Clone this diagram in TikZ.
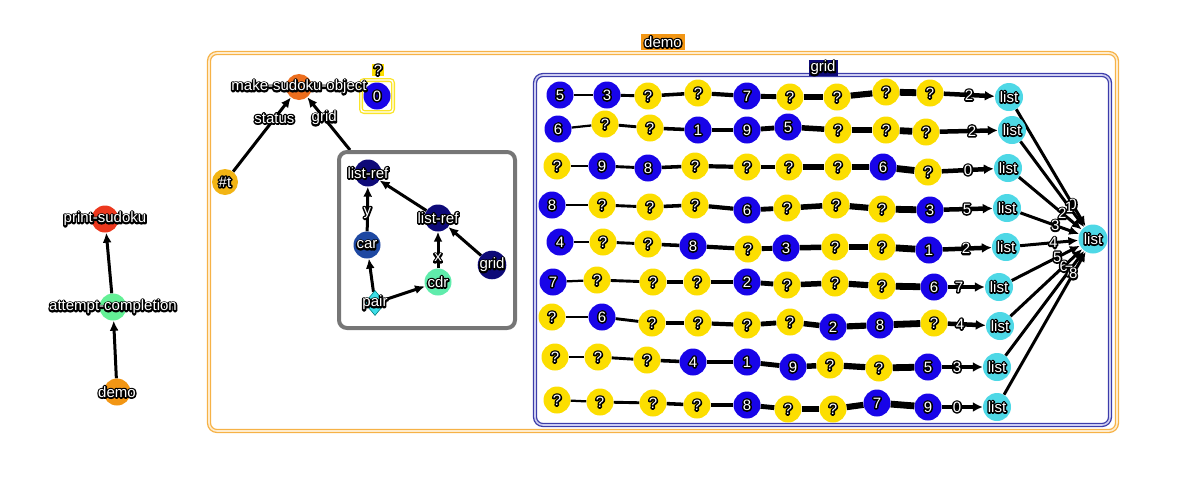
\documentclass[tikz,border=0pt]{standalone}
\usepackage{fontspec}
\setmainfont{Liberation Sans}
\usetikzlibrary{arrows.meta,shapes.geometric,calc}
\pgfdeclarelayer{bg}
\pgfsetlayers{bg,main}
\definecolor{cyel}{RGB}{252,222,0}
\definecolor{cblue}{RGB}{24,4,232}
\definecolor{cnavy}{RGB}{14,10,120}
\definecolor{ccar}{RGB}{30,72,162}
\definecolor{ccdr}{RGB}{96,236,172}
\definecolor{cpair}{RGB}{60,222,232}
\definecolor{clist}{RGB}{78,216,230}
\definecolor{cred}{RGB}{236,56,30}
\definecolor{cgreen}{RGB}{100,240,150}
\definecolor{corange}{RGB}{242,150,20}
\definecolor{cmso}{RGB}{236,110,30}
\definecolor{cgold}{RGB}{242,180,20}
\definecolor{cobox}{RGB}{246,178,70}
\definecolor{cobin}{RGB}{255,236,205}
\definecolor{cgbox}{RGB}{60,60,170}
\definecolor{cgbin}{RGB}{205,205,240}
\definecolor{cgray}{RGB}{118,118,118}
\definecolor{cyb}{RGB}{250,228,40}
% white text with a black outline: a stroked black copy under the white text
\newcommand\olt[1]{\leavevmode\rlap{\special{pdf:bcontent}\special{pdf:literal direct 1 Tr 3.1 w 1 j 0 G}#1\special{pdf:econtent}}#1}
\def\qmark{?}
\tikzset{
  txt/.style={font=\fontsize{15}{17}\selectfont, text=white, inner sep=0pt},
  vtx/.style={txt, circle, minimum size=27pt},
  cy/.style={vtx, fill=cyel},
  cb/.style={vtx, fill=cblue},
  listn/.style={vtx, fill=clist, minimum size=28pt},
  every label/.style={txt},
  arr/.style={line width=3pt, -{Latex[length=10pt,width=9pt]}},
  chainarrow/.style={line width=4.5pt, -{Latex[length=10pt,width=10pt]}},
}
\newcommand\mkcell[4]{\edef\tmpv{#4}\ifx\tmpv\qmark\node[cy] (#1) at (#2,#3) {\olt{?}};\else\node[cb] (#1) at (#2,#3) {\olt{#4}};\fi}
\newcommand\gridrow[5]{%
  \foreach \x/\y/\v [count=\i] in {#2} {\mkcell{r#1c\i}{\x}{\y}{\v}}
  \node[listn] (L#1) at (#4,#5) {\olt{list}};
  \begin{pgfonlayer}{bg}
    \foreach \i [evaluate=\i as \j using int(\i+1), evaluate=\i as \w using 1.6+0.65*\i] in {1,...,8} {\draw[line width=\w pt] (r#1c\i) -- (r#1c\j);}
    \draw[chainarrow] (r#1c9) -- (L#1);
  \end{pgfonlayer}
  \node[txt] (LL#1) at ($(L#1)!40pt!(r#1c9)$) {\olt{#3}};
}
\begin{document}
\begin{tikzpicture}[x=1pt,y=-1pt]
\useasboundingbox (0,0) rectangle (1177,477);

% boxes
\node[draw=cobox, double=cobin, line width=1.3pt, double distance=1.6pt, rounded corners=8pt, minimum width=908, minimum height=378] (demobox) at (663,242) {};
\node[txt, fill=corange, inner xsep=3pt, inner ysep=2pt] (demolab) at (663,42) {\olt{demo}};
\node[draw=cgbox, double=cgbin, line width=1.3pt, double distance=1.6pt, rounded corners=8pt, minimum width=575, minimum height=350] (gridbox) at (822.5,250) {};
\node[txt, fill=cnavy, inner xsep=2pt, inner ysep=1.5pt] (gridlab) at (823,68) {\olt{grid}};
\node[draw=cgray, line width=4pt, rounded corners=8pt, minimum width=176, minimum height=176] (gbox) at (427,240) {};
\coordinate (gb) at (350,150);

% left chain
\node[vtx, fill=cred, label=center:{\olt{print-sudoku}}] (ps) at (105,219) {};
\node[vtx, fill=cgreen, label=center:{\olt{attempt-completion}}] (ac) at (113,307) {};
\node[vtx, fill=corange, label=center:{\olt{demo}}] (dm) at (117,392) {};

% zero box, then make-sudoku-object on top
\node[draw=cyb, double=white, line width=1.3pt, double distance=1.4pt, rounded corners=3pt, minimum size=32pt] (zbox) at (377,96) {};
\node[vtx, fill=cblue] (zero) at (377,96) {\olt{0}};
\node[txt, fill=cyel, inner xsep=1.5pt, inner ysep=1pt] (zq) at (378,70) {\olt{?}};
\node[vtx, fill=cmso, minimum size=26pt, label=center:{\olt{make-sudoku-object}}] (mso) at (299,87) {};
\node[vtx, fill=cgold, minimum size=26pt] (tt) at (225,182) {\olt{\#t}};

% list-ref box
\node[vtx, fill=cnavy, label=center:{\olt{list-ref}}] (lr1) at (368,173) {};
\node[vtx, fill=ccar] (car) at (367,245) {\olt{car}};
\node[vtx, fill=cnavy, label=center:{\olt{list-ref}}] (lr2) at (438,218) {};
\node[vtx, fill=cnavy] (gridn) at (492,265) {\olt{grid}};
\node[vtx, fill=ccdr] (cdr) at (438,282) {\olt{cdr}};
\node[txt, diamond, fill=cpair, draw=teal, line width=0.6pt, minimum width=21pt, minimum height=25pt, label=center:{\olt{pair}}] (pair) at (375,303) {};

\begin{pgfonlayer}{bg}
\draw[arr] (dm) -- (ac);
\draw[arr] (ac) -- (ps);
\draw[arr] (tt) -- (mso);
\draw[arr] (gb) -- (mso);
\draw[arr] (car) -- (lr1);
\draw[arr] (lr2) -- (lr1);
\draw[arr] (cdr) -- (lr2);
\draw[arr] (gridn) -- (lr2);
\draw[arr] (pair) -- (car);
\draw[arr] (pair) -- (cdr);
\end{pgfonlayer}
\node[txt] (lstatus) at ($(mso)!40pt!(tt)$) {\olt{status}};
\node[txt] (lgrid) at ($(mso)!40pt!(gb)$) {\olt{grid}};
\node[txt] (ly) at ($(lr1)!40pt!(car)$) {\olt{y}};
\node[txt] (lx) at ($(lr2)!40pt!(cdr)$) {\olt{x}};

% grid rows
\gridrow{1}{560/95/5, 607/95/3, 648/96/?, 698/93/?, 747/96/7, 790/97/?, 837/97/?, 886/92/?, 930/93/?}{2}{1009}{97}
\gridrow{2}{558/129/6, 605/124/?, 650/128/?, 698/130/1, 747/130/9, 788/127/5, 838/130/?, 886/130/?, 926/132/?}{2}{1012}{130}
\gridrow{3}{557/166/?, 602/166/9, 648/168/8, 695/166/?, 747/167/?, 789/167/?, 838/167/?, 883/167/6, 928/172/?}{0}{1008}{168}
\gridrow{4}{552/205/8, 602/205/?, 650/207/?, 695/205/?, 747/210/6, 787/208/?, 836/205/?, 882/209/?, 930/210/3}{5}{1007}{208}
\gridrow{5}{560/242/4, 603/242/?, 648/244/?, 693/246/8, 748/249/?, 786/248/3, 835/247/?, 882/247/?, 929/250/1}{2}{1006}{247}
\gridrow{6}{553/282/7, 597/280/?, 653/282/?, 697/282/?, 747/282/2, 787/285/?, 835/283/?, 882/286/?, 934/287/6}{7}{999}{287}
\gridrow{7}{552/317/?, 602/317/6, 652/323/?, 698/323/?, 747/325/?, 790/322/?, 833/327/2, 880/325/8, 934/323/?}{4}{1000}{326}
\gridrow{8}{555/357/?, 598/357/?, 647/360/?, 693/362/4, 747/362/1, 793/367/9, 830/365/?, 879/368/?, 928/367/5}{3}{997}{367}
\gridrow{9}{557/400/?, 600/402/?, 653/403/?, 697/405/?, 747/405/8, 788/409/?, 833/409/?, 877/403/7, 928/407/9}{0}{997}{407}

% fan
\node[vtx, fill=clist, minimum size=29pt] (big) at (1093,239) {\olt{list}};
\begin{pgfonlayer}{bg}
\foreach \k in {1,...,9} {\draw[arr] (L\k) -- (big);}
\end{pgfonlayer}
\foreach \k [evaluate=\k as \n using int(\k-1)] in {1,...,9} {\node[txt] (fl\k) at ($(big)!40pt!(L\k)$) {\olt{\n}};}
\end{tikzpicture}
\end{document}
